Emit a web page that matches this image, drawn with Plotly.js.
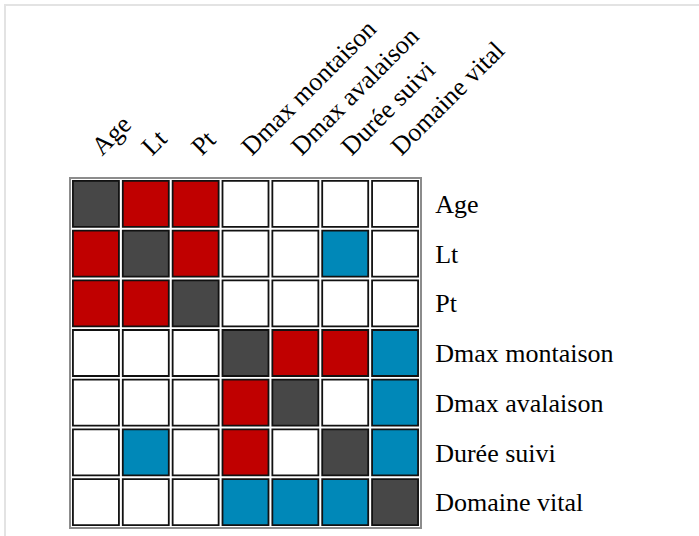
<!DOCTYPE html>
<html>
<head>
<meta charset="utf-8">
<script src="https://cdn.plot.ly/plotly-3.0.1.min.js"></script>
<style>
  html, body { margin: 0; padding: 0; background: #fff; }
  #wrap { position: relative; width: 699px; height: 536px; overflow: hidden; }
  #frame { position: absolute; left: 4px; top: 4px; width: 720px; height: 560px;
           border-left: 2px solid #e3e3e3; border-top: 2px solid #e3e3e3; }
  #chart { position: absolute; left: 0; top: 0; width: 699px; height: 536px; }
</style>
</head>
<body>
<div id="wrap">
  <div id="frame"></div>
  <div id="chart"></div>
</div>
<script>
// Variables (same order for columns and rows)
const variables = ['Age', 'Lt', 'Pt', 'Dmax montaison', 'Dmax avalaison', 'Durée suivi', 'Domaine vital'];

// Cell status: D = diagonal, P = positive correlation, N = negative correlation, 0 = none
const matrix = [
  ['D', 'P', 'P', '0', '0', '0', '0'],
  ['P', 'D', 'P', '0', '0', 'N', '0'],
  ['P', 'P', 'D', '0', '0', '0', '0'],
  ['0', '0', '0', 'D', 'P', 'P', 'N'],
  ['0', '0', '0', 'P', 'D', '0', 'N'],
  ['0', 'N', '0', 'P', '0', 'D', 'N'],
  ['0', '0', '0', 'N', 'N', 'N', 'D']
];

const statusColors = { 'D': '#474747', 'P': '#c00000', 'N': '#0088b8', '0': '#ffffff' };
const statusOrder = ['0', 'P', 'N', 'D'];

const traces = statusOrder.map(function (s) {
  const xs = [], ys = [];
  matrix.forEach(function (row, i) {
    row.forEach(function (v, j) {
      if (v === s) { xs.push(variables[j]); ys.push(variables[i]); }
    });
  });
  return {
    type: 'scatter', mode: 'markers', x: xs, y: ys, hoverinfo: 'skip', showlegend: false,
    marker: { symbol: 'square', size: 46, color: statusColors[s], line: { color: '#111111', width: 1.8 } }
  };
});

const font = { family: 'Liberation Serif', size: 26, color: '#000' };

const layout = {
  width: 699, height: 536,
  margin: { l: 71, r: 279, t: 179, b: 9, pad: 0 },
  paper_bgcolor: 'rgba(0,0,0,0)', plot_bgcolor: '#ffffff',
  font: font,
  xaxis: {
    type: 'category', categoryorder: 'array', categoryarray: variables,
    range: [-0.5, 6.5], side: 'top', tickangle: -45,
    showgrid: false, zeroline: false, automargin: false,
    showline: true, mirror: true, linecolor: '#8c8c8c', linewidth: 2,
    ticks: '', ticklabelstandoff: 6, ticklabelshift: -3, tickfont: font
  },
  yaxis: {
    type: 'category', categoryorder: 'array', categoryarray: variables,
    range: [6.5, -0.5], side: 'right',
    showgrid: false, zeroline: false, automargin: false,
    showline: true, mirror: true, linecolor: '#8c8c8c', linewidth: 2,
    ticks: 'outside', ticklen: 8, tickcolor: 'rgba(0,0,0,0)', tickfont: font
  }
};

Plotly.newPlot('chart', traces, layout, { staticPlot: true, displayModeBar: false });
</script>
</body>
</html>
